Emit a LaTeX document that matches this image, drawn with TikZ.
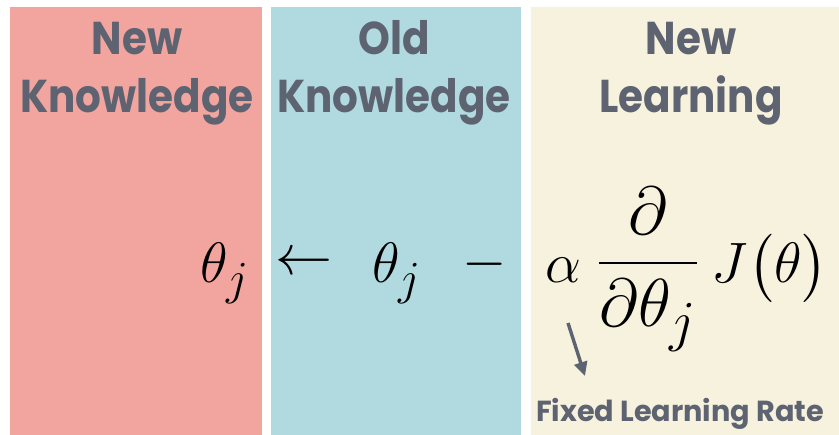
\documentclass[tikz,border=0pt]{standalone}
\usepackage{amsmath}
\usepackage{fontspec}
\usepackage{tikz}
\usetikzlibrary{arrows.meta}
\definecolor{panelred}{RGB}{242,164,158}
\definecolor{panelblue}{RGB}{176,218,224}
\definecolor{panelcream}{RGB}{247,242,221}
\definecolor{slate}{RGB}{94,99,114}
\newfontfamily\headfont{Poppins}[FakeStretch=0.88]
\newfontfamily\ratefont{Poppins}[FakeStretch=0.99]
\newcommand\eqbox[2][2.29]{\scalebox{#1}{\Huge$#2$}}

\begin{document}
\begin{tikzpicture}[x=1pt, y=-1pt,
    head/.style={font=\headfont\bfseries\fontsize{46}{58}\selectfont,
                 text=slate, align=center, inner sep=0pt},
    eq/.style={inner sep=0pt},
    ptr/.style={-{Triangle[length=14pt, width=13pt]}, line width=3.4pt, draw=slate}]

    \useasboundingbox (0,0) rectangle (839,435);

    % Panels
    \fill[panelred]   (10,7)  rectangle (262,435);
    \fill[panelblue]  (271,7) rectangle (521,435);
    \fill[panelcream] (531,7) rectangle (839,435);

    % Titles
    \node[head, anchor=base] (newknow)  at (137,113) {New\\Knowledge};
    \node[head, anchor=base] (oldknow)  at (394,113) {Old\\Knowledge};
    \node[head, anchor=base] (newlearn) at (691,113) {New\\Learning};

    % Update rule
    \node[eq, anchor=base west] (lhs)   at (200,283) {\eqbox{\theta_j}};
    \node[eq, anchor=center]    (larr)  at (304,264) {\eqbox{\leftarrow}};
    \node[eq, anchor=base west] (rhs)   at (372,283) {\eqbox{\theta_j}};
    \node[eq, anchor=center]    (minus) at (485,264) {\eqbox{-}};
    \node[eq, anchor=base west] (alpha) at (545,283) {\eqbox{\alpha}};
    \node[eq, anchor=base]      (grad)  at (648,280) {\eqbox[2.73]{\dfrac{\partial}{\partial\theta_j}}};
    \node[eq, anchor=base east] (cost)  at (828,283) {\eqbox{J\bigl(\theta\bigr)}};

    % Learning rate
    \node[font=\ratefont\bfseries\fontsize{29}{32}\selectfont, text=slate,
          inner sep=0pt, anchor=base] (rate) at (680,422) {Fixed Learning Rate};
    \coordinate (ratetail) at (568,323);
    \coordinate (ratetip)  at (585,376);
    \draw[ptr] (ratetail) -- (ratetip);

\end{tikzpicture}
\end{document}
